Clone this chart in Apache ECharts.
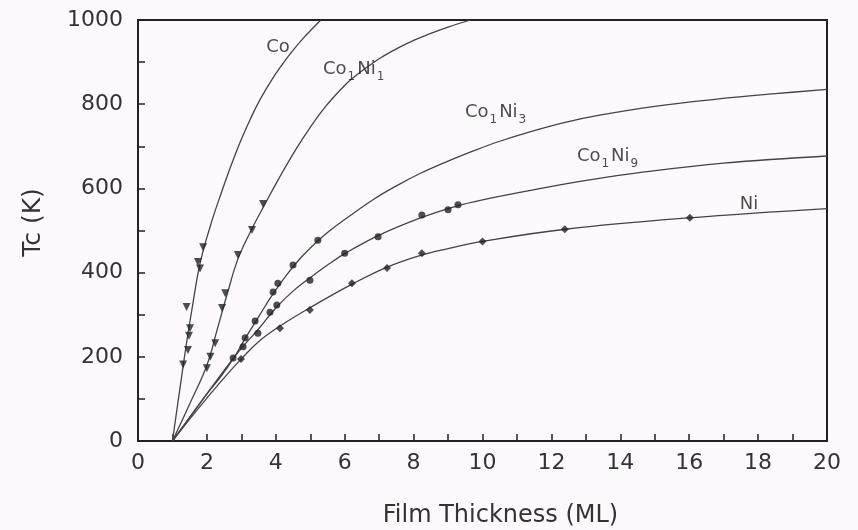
<!DOCTYPE html>
<html>
<head>
<meta charset="utf-8">
<script src="https://cdn.jsdelivr.net/npm/echarts@6/dist/echarts.min.js"></script>
<style>
  html, body { margin: 0; padding: 0; background: #fdf9fc; }
  #chart { width: 858px; height: 530px; }
</style>
</head>
<body>
<div id="chart"></div>
<script>
// Fitted Tc(N) curves, [thickness ML, Tc K]
const curveCo = [[1.0,0],[1.2,115],[1.4,228],[1.6,330],[1.75,402],[1.9,455],[2.05,497],[2.2,537],[2.4,585],[2.6,632],[2.82,680],[3.05,726],[3.28,768],[3.55,812],[3.86,855],[4.15,890],[4.44,922],[4.8,957],[5.31,1000]];
const curveCo1Ni1 = [[1.0,0],[1.5,88],[2.0,180],[2.3,265],[2.6,352],[2.9,432],[3.3,503],[3.7,565],[4.1,625],[4.6,695],[5.0,745],[5.43,793],[5.9,836],[6.2,860],[7.0,908],[7.8,944],[8.5,968],[9.0,983],[9.65,1000]];
const curveCo1Ni3 = [[1.0,0],[1.5,56],[2.0,112],[2.42,155],[2.8,200],[3.1,242],[3.5,295],[3.9,347],[4.3,393],[4.7,433],[5.2,474],[5.6,502],[6.0,526],[6.8,572],[7.5,606],[8.2,636],[9.0,665],[9.7,688],[10.5,712],[11.4,735],[12.4,757],[13.4,774],[15.0,795],[16.8,812],[18.5,825],[20,835]];
const curveCo1Ni9 = [[1.0,0],[1.5,56],[2.0,112],[2.5,168],[3.0,220],[3.5,266],[4.0,316],[4.5,356],[5.0,388],[5.5,418],[6.0,445],[7.0,489],[8.2,530],[9.2,557],[10.0,573],[11.7,600],[13.1,620],[14.6,638],[17.0,660],[20,677]];
const curveNi = [[1.0,0],[1.5,52],[2.0,102],[2.5,150],[3.0,195],[3.5,236],[4.1,272],[5.0,317],[6.2,372],[7.2,412],[8.2,441],[9.0,457],[10,474],[12.4,503],[16,530],[20,552]];

// Measured points
const ptsCo = [[1.31,182],[1.45,216],[1.48,250],[1.51,268],[1.41,318],[1.74,425],[1.8,410],[1.89,460]];
const ptsCo1Ni1 = [[2.0,173],[2.1,200],[2.24,232],[2.44,316],[2.53,351],[2.9,442],[3.31,501],[3.63,563]];
const ptsCo1Ni3 = [[3.11,245],[3.4,285],[3.92,354],[4.06,375],[4.5,418],[5.22,477]];
const ptsCo1Ni9 = [[2.76,197],[3.05,224],[3.48,256],[3.83,306],[4.03,323],[4.99,382],[6.0,446],[6.97,485],[8.24,537],[9.0,549],[9.29,561]];
const ptsNi = [[2.99,195],[4.12,268],[4.99,311],[6.21,375],[7.23,411],[8.24,446],[10.0,474],[12.39,503],[16.02,530]];

// Curve labels: [anchor x, anchor y, rich-text label]
const curveLabels = [
  [3.72, 936, 'Co'],
  [5.37, 883, 'Co{s|1}Ni{s|1}'],
  [9.49, 781, 'Co{s|1}Ni{s|3}'],
  [12.74, 677, 'Co{s|1}Ni{s|9}'],
  [17.47, 563, 'Ni']
];

// Axis ranges; ticks every 1 ML / 100 K, labels on every second tick
const xTicks = { min: 0, max: 20, step: 1, labelEvery: 2 };
const yTicks = { min: 0, max: 1000, step: 100, labelEvery: 200 };

const ink = '#333';
const font = 'DejaVu Sans';

function curveSeries(data) {
  return {
    type: 'line', data: data, smooth: 0.4,
    showSymbol: false, symbol: 'none',
    lineStyle: { color: '#444', width: 1.3 },
    silent: true, z: 2
  };
}
function pointSeries(data, symbol, size, rotate) {
  return {
    type: 'scatter', data: data, symbol: symbol, symbolSize: size,
    symbolRotate: rotate || 0,
    itemStyle: { color: '#222' }, silent: true, z: 3
  };
}
function axisBase(t) {
  return {
    type: 'value', min: t.min, max: t.max, interval: t.step,
    axisLine: { show: true, lineStyle: { color: '#222', width: 2 } },
    axisTick: { show: true, inside: true, length: 7, lineStyle: { color: '#222', width: 1.5 } },
    axisLabel: {
      fontFamily: font, fontSize: 22, color: ink,
      formatter: v => (Math.round(v) % t.labelEvery === 0 ? String(Math.round(v)) : '')
    },
    splitLine: { show: false }
  };
}

const xAxis = axisBase(xTicks);
Object.assign(xAxis, {
  name: 'Film Thickness (ML)', nameLocation: 'middle', nameGap: 63,
  nameTextStyle: { fontFamily: font, fontSize: 24, color: ink, padding: [0, 0, 0, 36] }
});
xAxis.axisLabel.margin = 11;

const yAxis = axisBase(yTicks);
Object.assign(yAxis, {
  name: 'Tc (K)', nameLocation: 'middle', nameGap: 92, nameRotate: 90,
  nameTextStyle: { fontFamily: font, fontSize: 25, color: ink, padding: [0, 0, 0, 16] }
});
yAxis.axisLabel.margin = 15;

const chart = echarts.init(document.getElementById('chart'), null, { renderer: 'canvas' });
chart.setOption({
  backgroundColor: '#fdf9fc',
  animation: false,
  grid: {
    left: 138, right: 31, top: 20, bottom: 89,
    containLabel: false, outerBoundsMode: 'none',
    show: true, borderColor: '#222', borderWidth: 2, backgroundColor: 'transparent'
  },
  xAxis: xAxis,
  yAxis: yAxis,
  series: [
    curveSeries(curveCo),
    curveSeries(curveCo1Ni1),
    curveSeries(curveCo1Ni3),
    curveSeries(curveCo1Ni9),
    curveSeries(curveNi),
    pointSeries(ptsCo, 'triangle', 8, 180),
    pointSeries(ptsCo1Ni1, 'triangle', 8, 180),
    pointSeries(ptsCo1Ni3, 'circle', 7),
    pointSeries(ptsCo1Ni9, 'circle', 7),
    pointSeries(ptsNi, 'diamond', 8),
    {
      type: 'scatter', symbolSize: 0, silent: true, z: 4,
      data: curveLabels.map(l => ({ value: [l[0], l[1]], labelText: l[2] })),
      label: {
        show: true, position: 'right', distance: 0,
        formatter: p => p.data.labelText,
        fontFamily: font, fontSize: 18, color: '#222',
        rich: { s: { fontFamily: font, fontSize: 12, color: '#222', padding: [15, 2, 0, 1] } }
      }
    }
  ]
});
</script>
</body>
</html>
